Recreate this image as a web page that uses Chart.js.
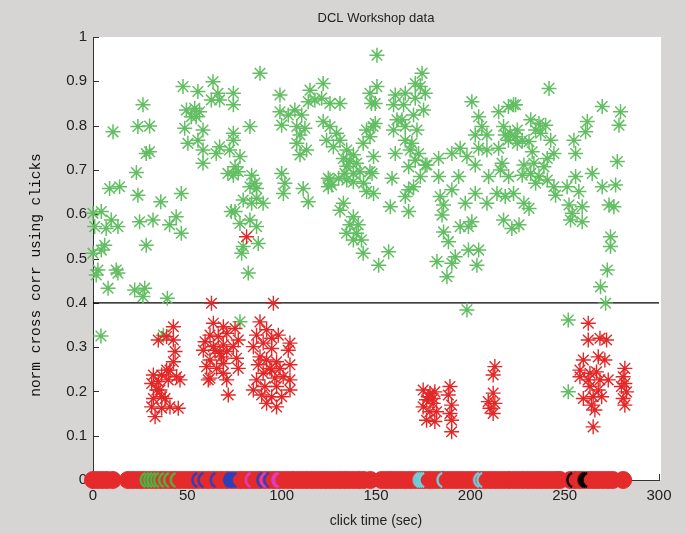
<!DOCTYPE html>
<html>
<head>
<meta charset="utf-8">
<title>DCL Workshop data</title>
<script src="https://cdn.jsdelivr.net/npm/chart.js@4.4.1/dist/chart.umd.min.js"></script>
<style>
  html, body { margin: 0; padding: 0; background: #d7d5d3; }
  #wrap { width: 686px; height: 533px; }
</style>
</head>
<body>
<div id="wrap"><canvas id="clicks" width="686" height="533"></canvas></div>
<script>
// green asterisks: click time (sec) / norm cross corr
const greenTime = [
  47.7, 63.6, 55.6, 66.2, 67.1, 62.7, 26.5, 49.5, 53.9, 56.5, 52.1, 54.7, 10.6, 23.8, 30.0, 48.6, 58.3, 50.3, 55.6, 58.3,
  65.3, 67.1, 72.4, 28.2, 30.0, 58.3, 71.5, 23.0, 8.8, 14.1, 23.8, 46.8, 35.9, 73.3, 0, 4.4, 9.7, 7.0, 13.2, 0.9,
  24.7, 31.8, 44.1, 40.6, 46.8, 28.2, 6.2, 4.4, 0, 2.6, 1.7, 12.3, 13.2, 8.0, 22.1, 27.4, 26.5, 39.4, 4.2, 77.9, 37.3,
  88.5, 74.4, 74.4, 99.1, 99.1, 100, 115, 122, 117.6, 114.1, 121.2, 125.6, 130.9, 107, 103.5, 110.6, 108, 112.3, 109.7, 83.2,
  74.4, 74.4, 122, 125.6, 129.1, 123.8, 130.9, 127.4, 108, 113.2, 109.7, 134.5, 138, 132.7, 136.2, 139.7, 134.5, 133.5, 138, 141.5,
  130.2, 134.5, 138, 143.4, 124.7, 126.5, 145, 146.8, 143.2, 148.5, 146.8, 147.6, 150.5, 77.9, 75.3, 74.4, 77, 84.1, 85.8, 83.2,
  86.7, 100, 101.7, 100.9, 111.4, 114.1, 79.6, 84.1, 90.2, 86.7, 75.3, 77.9, 83.2, 86.7, 87.6, 79.6, 78.8, 82.3, 125.6, 124.7,
  132.7, 130.9, 138, 136.2, 140.6, 139.7, 142.3, 134.4, 138, 143.2, 146.8, 145,
  150.5, 149.6, 149.6, 148.7, 147.9, 148.7, 174.4, 173.5, 170.8, 176.1, 160.2, 165.5, 159.3, 164.6, 170.8, 169.9, 175.2, 161.1, 163.8, 159.3,
  165.5, 171.7, 165.5, 169, 160.2, 168.1, 172.6, 167.3, 176.1, 170.8, 183.2, 173.5, 158.5, 167.3, 165.5, 169.9, 157.6, 167.3, 200.8, 204.4,
  206.1, 208.8, 202.6, 215, 220.2, 222.9, 217.6, 221.1, 220.2, 223.8, 218.5, 190.2, 194.6, 198.2, 204.4, 208.8, 215, 177, 183.2, 193.8,
  202.6, 209.7, 215.9, 216.8, 220.3, 190.2, 184, 185.8, 197.3, 202.6, 208.8, 214.1, 218.5, 222.9, 185, 185.8, 188.4, 194.6, 200.8, 199,
  217.6, 222, 192, 190.2, 182.3, 187.6, 199, 204.4, 203.5, 156.7, 151.4, 198.2,
  241.7, 224, 269.9, 279.6, 278.8, 262, 261.1, 254.9, 255.8, 232, 236.4, 239.9, 237.3, 234.6, 224.9, 227.5, 224.9, 231.1, 242.6, 244.3,
  232.8, 240.8, 228.4, 233.7, 239, 232, 227.5, 236.4, 234.6, 240.8, 244.3, 245.2, 251.3, 255.8, 257.5, 264.6, 269.9, 277, 228.4, 231.1,
  225.8, 252.3, 254, 259.3, 253.1, 259.3, 273.5, 276.1, 274.3, 274.3, 272.6, 269, 271.7, 277.9, 251.9, 251.9
];
const greenCorr = [
  0.888, 0.899, 0.877, 0.873, 0.858, 0.858, 0.847, 0.835, 0.839, 0.831, 0.820, 0.820, 0.786, 0.798, 0.799, 0.794, 0.790, 0.760, 0.767, 0.745,
  0.737, 0.752, 0.745, 0.737, 0.741, 0.715, 0.692, 0.694, 0.658, 0.662, 0.643, 0.647, 0.628, 0.606, 0.602, 0.606, 0.587, 0.568, 0.572, 0.572,
  0.583, 0.587, 0.594, 0.576, 0.557, 0.530, 0.530, 0.519, 0.512, 0.474, 0.463, 0.474, 0.467, 0.433, 0.429, 0.433, 0.414, 0.410, 0.325, 0.357, 0.327,
  0.918, 0.873, 0.847, 0.869, 0.831, 0.801, 0.880, 0.895, 0.858, 0.854, 0.862, 0.850, 0.850, 0.835, 0.824, 0.824, 0.798, 0.794, 0.779, 0.798,
  0.783, 0.767, 0.809, 0.798, 0.783, 0.767, 0.767, 0.752, 0.760, 0.745, 0.734, 0.745, 0.734, 0.726, 0.719, 0.715, 0.708, 0.692, 0.692, 0.696,
  0.681, 0.677, 0.673, 0.670, 0.681, 0.666, 0.790, 0.775, 0.760, 0.798, 0.873, 0.850, 0.959, 0.730, 0.707, 0.688, 0.696, 0.688, 0.670, 0.662,
  0.658, 0.692, 0.670, 0.647, 0.658, 0.628, 0.632, 0.625, 0.625, 0.636, 0.606, 0.579, 0.587, 0.572, 0.534, 0.527, 0.512, 0.467, 0.677, 0.662,
  0.625, 0.609, 0.594, 0.576, 0.576, 0.557, 0.542, 0.557, 0.542, 0.512, 0.696, 0.651,
  0.888, 0.850, 0.805, 0.730, 0.692, 0.647, 0.918, 0.888, 0.895, 0.873, 0.869, 0.873, 0.847, 0.847, 0.862, 0.824, 0.835, 0.813, 0.813, 0.790,
  0.798, 0.790, 0.767, 0.760, 0.737, 0.745, 0.737, 0.707, 0.711, 0.722, 0.726, 0.685, 0.681, 0.655, 0.640, 0.662, 0.617, 0.606, 0.854, 0.820,
  0.798, 0.779, 0.779, 0.831, 0.843, 0.847, 0.798, 0.783, 0.767, 0.775, 0.779, 0.737, 0.749, 0.730, 0.749, 0.745, 0.749, 0.711, 0.685, 0.685,
  0.711, 0.685, 0.700, 0.715, 0.685, 0.655, 0.640, 0.621, 0.625, 0.647, 0.625, 0.647, 0.640, 0.647, 0.598, 0.560, 0.538, 0.572, 0.583, 0.572,
  0.587, 0.568, 0.504, 0.489, 0.493, 0.459, 0.519, 0.519, 0.485, 0.515, 0.485, 0.384,
  0.884, 0.847, 0.843, 0.831, 0.801, 0.809, 0.786, 0.767, 0.737, 0.813, 0.805, 0.801, 0.783, 0.790, 0.790, 0.767, 0.760, 0.764, 0.767, 0.737,
  0.741, 0.726, 0.711, 0.715, 0.707, 0.692, 0.688, 0.685, 0.670, 0.677, 0.662, 0.643, 0.662, 0.685, 0.651, 0.692, 0.662, 0.666, 0.625, 0.613,
  0.576, 0.621, 0.602, 0.617, 0.587, 0.583, 0.621, 0.617, 0.549, 0.527, 0.474, 0.436, 0.399, 0.719, 0.361, 0.199
];

// red asterisks
const redTime = [
  81.4, 62.8, 95.6,
  42.6, 34.6, 39, 42.6, 43.5, 42.6, 40.8, 36.4, 32, 44.3, 39.9, 34.6, 31.1, 33.8, 36.4, 32, 38.2, 40.8, 45.2, 32.9, 36.4, 31.1, 46.1, 39, 35.5,
  63.8, 69.1, 75.3, 62, 66.4, 70.9, 77, 59.4, 63.8, 69.1, 74.4, 58.5, 70.9, 68.2, 62, 76.1, 60.2, 65.5, 77, 69.1, 62, 70.9, 61.1, 71.7, 67.3, 69.1, 64.7,
  88.5, 92, 94.7, 98.2, 86.7, 90.2, 104.4, 103.5, 94.7, 88.5, 92, 97.3, 87.6, 94.7, 104.4, 90.2, 96.4, 100.8, 104.4, 86.7, 91.1, 97.3, 104.4, 89.4,
  94.7, 100, 92, 97.3, 93.8, 99.1, 85, 85,
  175, 178.6, 181.2, 176.8, 180.3, 175, 178.6, 182.1, 176.8, 181.2, 177.7, 180.3, 189.2, 188.3, 190.1, 189.2, 190.1, 190.1,
  213, 212.1, 212.1, 209.5, 213, 210.4, 212.1,
  262.5, 262.5, 268.7, 272.2, 259.9, 267.8, 271.3, 258.1, 263.4, 266.9, 258.1, 262.5, 268.7, 273.1, 263.4, 267.8, 259.9, 265.1, 269.6, 264.2, 266, 265.1,
  281.9, 281, 281.9, 280.1, 282.8, 281, 281.9
];
const redCorr = [
  0.549, 0.399, 0.399,
  0.346, 0.316, 0.324, 0.316, 0.290, 0.267, 0.248, 0.237, 0.237, 0.233, 0.226, 0.222, 0.218, 0.203, 0.188, 0.184, 0.184, 0.165, 0.162, 0.143, 0.162, 0.165, 0.226, 0.248, 0.203,
  0.354, 0.346, 0.342, 0.327, 0.324, 0.331, 0.316, 0.312, 0.301, 0.305, 0.301, 0.293, 0.290, 0.278, 0.271, 0.275, 0.256, 0.252, 0.252, 0.241, 0.230, 0.226, 0.226, 0.192, 0.286, 0.263, 0.293,
  0.357, 0.339, 0.320, 0.327, 0.327, 0.309, 0.309, 0.293, 0.297, 0.278, 0.271, 0.267, 0.260, 0.248, 0.260, 0.241, 0.230, 0.233, 0.226, 0.226, 0.211, 0.211, 0.203, 0.192,
  0.188, 0.188, 0.173, 0.165, 0.252, 0.252, 0.301, 0.203,
  0.203, 0.196, 0.199, 0.181, 0.173, 0.165, 0.154, 0.154, 0.135, 0.132, 0.188, 0.184, 0.211, 0.192, 0.169, 0.150, 0.135, 0.109,
  0.256, 0.237, 0.196, 0.177, 0.173, 0.162, 0.150,
  0.354, 0.316, 0.320, 0.316, 0.271, 0.278, 0.271, 0.248, 0.241, 0.244, 0.233, 0.226, 0.226, 0.226, 0.211, 0.203, 0.184, 0.188, 0.188, 0.169, 0.158, 0.120,
  0.252, 0.233, 0.218, 0.211, 0.199, 0.184, 0.169
];

// threshold line
const thresholdTime = [0, 300];
const thresholdCorr = [0.4, 0.4];

// click markers along zero, one list per colour
const clicksRed = [
  0, 2.5, 5, 7.5, 10.5,
  18.5, 21, 23.5, 26, 28.5, 31, 33.5, 36, 38.5, 41, 43.5, 46, 48.5, 51, 53.5, 56, 58.5, 61, 63.5, 66, 68.5, 71, 73.5, 76, 78.5,
  81, 83.5, 86, 88.5, 91, 93.5, 96, 98.5, 101, 103.5, 106, 108.5, 111, 113.5, 116, 118.5, 121, 123.5, 126, 128.5, 131, 133.5, 136, 138.5, 141, 143.5, 147,
  153, 155.5, 158, 160.5, 163, 165.5, 168, 170.5, 173, 175.5, 178, 180.5, 183, 185.5, 188, 190.5, 193, 195.5, 198, 200.5, 203, 205.5, 208,
  210.5, 213, 215.5, 218, 220.5, 223, 225.5, 228, 230.5, 233, 235.5, 238, 240.5, 243, 245.5, 247.5,
  253, 255.5, 258, 260.5, 263, 265.5, 268, 270.5, 273, 275.5, 281
];
const clicksGreen = [29.3, 31.1, 32.8, 34.6, 36.4, 39, 41.7, 45.2];
const clicksBlue = [56.7, 59.9, 66.4, 73.5, 74.5, 75.5, 76.5, 77.5, 91.1, 94.7];
const clicksMagenta = [85, 93, 99.1, 100];
const clicksCyan = [174, 175, 176, 177, 186.6, 206, 207.7];
const clicksBlack = [255.4, 261.5, 262.5, 263.4];

const tickFont = { family: "'Liberation Sans', Arial, sans-serif", size: 15 };

function toPoints(xs, ys) {
  return xs.map((x, i) => ({ x: x, y: ys[i] }));
}

function zeroRow(xs) {
  return xs.map((x) => ({ x: x, y: 0 }));
}

// "(" shaped marker: only the left edge of the circle shows in the band
function crescent(color) {
  const c = document.createElement("canvas");
  c.width = 22;
  c.height = 22;
  const g = c.getContext("2d");
  g.strokeStyle = color;
  g.lineWidth = 2.4;
  g.beginPath();
  g.arc(11, 11, 7.6, Math.PI * 0.62, Math.PI * 1.38);
  g.stroke();
  return c;
}

function clickRow(xs, color, order) {
  return {
    data: zeroRow(xs),
    pointStyle: crescent(color),
    pointRadius: 8,
    clip: false,
    order: order,
  };
}

const figureText = {
  id: "figureText",
  beforeDraw(chart) {
    const { ctx, chartArea } = chart;
    ctx.save();
    ctx.fillStyle = "#ffffff";
    ctx.fillRect(chartArea.left, chartArea.top, chartArea.right - chartArea.left + 2, chartArea.bottom - chartArea.top);
    ctx.restore();
  },
  beforeDatasetsDraw(chart) {
    // MATLAB style ticks pointing into the axes
    const { ctx } = chart;
    const xs = chart.scales.x;
    const ys = chart.scales.y;
    ctx.save();
    ctx.strokeStyle = "#333";
    ctx.lineWidth = 1;
    ctx.beginPath();
    xs.ticks.forEach((t) => {
      const px = Math.round(xs.getPixelForValue(t.value)) + 0.5;
      ctx.moveTo(px, ys.bottom);
      ctx.lineTo(px, ys.bottom - 6);
    });
    ys.ticks.forEach((t) => {
      const py = Math.round(ys.getPixelForValue(t.value)) + 0.5;
      ctx.moveTo(xs.left, py);
      ctx.lineTo(xs.left + 6, py);
    });
    ctx.stroke();
    ctx.restore();
  },
  afterDraw(chart) {
    const { ctx, chartArea } = chart;
    ctx.save();
    ctx.fillStyle = "#222";
    ctx.font = "13px 'Liberation Sans', Arial, sans-serif";
    ctx.textAlign = "center";
    ctx.textBaseline = "middle";
    ctx.fillText("DCL Workshop data", (chartArea.left + chartArea.right) / 2, 18);

    // y label, a little below the axes centre as in the original
    ctx.translate(36, 275);
    ctx.rotate(-Math.PI / 2);
    ctx.fillStyle = "#111";
    ctx.font = "14.5px 'Liberation Mono', 'Courier New', monospace";
    ctx.fillText("norm cross corr using clicks", 0, 0);
    ctx.restore();
  },
};

new Chart(document.getElementById("clicks"), {
  type: "scatter",
  data: {
    datasets: [
      {
        type: "line",
        data: toPoints(thresholdTime, thresholdCorr),
        borderColor: "#000",
        borderWidth: 1.3,
        pointRadius: 0,
        order: 3,
      },
      {
        data: toPoints(redTime, redCorr),
        pointStyle: "star",
        pointRadius: 7.5,
        borderColor: "#e32626",
        borderWidth: 1.4,
        clip: false,
        order: 1,
      },
      {
        data: toPoints(greenTime, greenCorr),
        pointStyle: "star",
        pointRadius: 7.5,
        borderColor: "#62be62",
        borderWidth: 1.5,
        clip: false,
        order: 2,
      },
      {
        data: zeroRow(clicksRed),
        pointStyle: "circle",
        pointRadius: 8.5,
        backgroundColor: "#e52a2b",
        borderColor: "#e52a2b",
        borderWidth: 1,
        clip: false,
        order: 10,
      },
      clickRow(clicksGreen, "#44bb44", 6),
      clickRow(clicksBlue, "#2443c2", 6),
      clickRow(clicksMagenta, "#dd3fbf", 5),
      clickRow(clicksCyan, "#6fcfdc", 6),
      clickRow(clicksBlack, "#000000", 6),
    ],
  },
  options: {
    responsive: false,
    devicePixelRatio: 1,
    animation: false,
    layout: { padding: { left: 0, right: 27, top: 37, bottom: 0 } },
    plugins: {
      legend: { display: false },
      tooltip: { enabled: false },
      title: { display: false },
    },
    scales: {
      x: {
        type: "linear",
        min: 0,
        max: 300,
        afterFit(scale) {
          scale.height = 53;
        },
        ticks: { stepSize: 50, padding: 7, font: tickFont, color: "#222" },
        grid: { display: false, drawTicks: false },
        border: { display: true, color: "#333", width: 1 },
        title: {
          display: true,
          text: "click time (sec)",
          color: "#222",
          font: { family: "'Liberation Sans', Arial, sans-serif", size: 14 },
          padding: { top: 0, bottom: 3 },
        },
      },
      y: {
        min: 0,
        max: 1,
        afterFit(scale) {
          scale.width = 93;
        },
        ticks: {
          stepSize: 0.1,
          padding: 6,
          font: tickFont,
          color: "#222",
          callback: (v) => String(Math.round(v * 10) / 10),
        },
        grid: { display: false, drawTicks: false },
        border: { display: true, color: "#333", width: 1 },
      },
    },
  },
  plugins: [figureText],
});
</script>
</body>
</html>
